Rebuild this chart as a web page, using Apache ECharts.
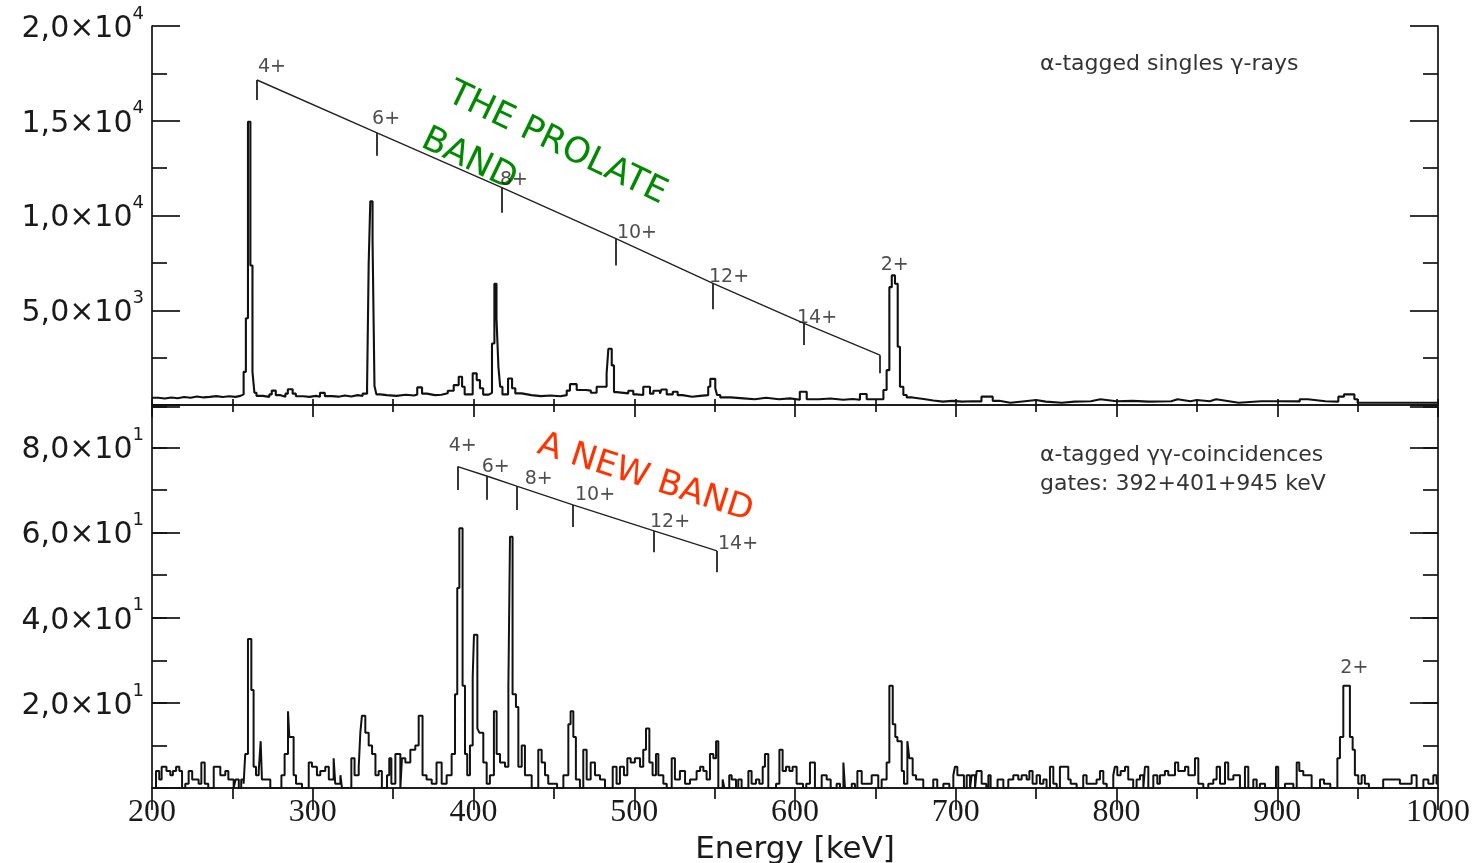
<!DOCTYPE html>
<html>
<head>
<meta charset="utf-8">
<script src="https://cdn.jsdelivr.net/npm/echarts@6/dist/echarts.min.js"></script>
<style>
html,body{margin:0;padding:0;background:#ffffff;}
#chart{width:1480px;height:863px;}
</style>
</head>
<body>
<div id="chart"></div>
<script>
// ---------------- data ----------------
// tick labels
const xTickValues = [200, 300, 400, 500, 600, 700, 800, 900, 1000];
const topYTickValues = [5000, 10000, 15000, 20000];
const topYTickMantissa = ['5,0×10', '1,0×10', '1,5×10', '2,0×10'];
const topYTickExponent = ['3', '4', '4', '4'];
const bottomYTickValues = [20, 40, 60, 80];
const bottomYTickMantissa = ['2,0×10', '4,0×10', '6,0×10', '8,0×10'];
const bottomYTickExponent = ['1', '1', '1', '1'];

// alpha-tagged singles gamma-rays: [bin left edge keV, counts]
const topSpectrum = [
[200,380],[204,340],[208,400],[212,360],[216,420],[220,380],[224,450],[228,400],[232,430],[236,470],
[240,420],[244,460],[248,430],[252,480],[255,560],[257,1750],[258.4,4580],[259.7,14950],[261.2,7360],[262.5,1750],
[263.7,650],[265,480],[269,430],[273,560],[274.5,760],[277,520],[280,440],[283,600],[284.5,830],[287.5,600],
[289.5,460],[294,430],[298,480],[302,440],[304.5,640],[307.5,470],[312,440],[316,500],[320,450],[324,520],
[328,470],[331,600],[333.8,1000],[334.8,7490],[335.8,10750],[337.2,8680],[338.4,1000],[339.6,560],[342,520],[346,480],
[352,540],[358,500],[363,560],[365,930],[368,600],[371,520],[376,540],[380,615],[384,750],[387.7,1050],
[390.8,1490],[392.9,960],[394.5,560],[399.5,1670],[402,1315],[404,880],[406,550],[409.5,640],[411.5,3245],[413,6400],
[414.3,4560],[415.5,2015],[416.6,960],[418,560],[421.5,1400],[424,880],[426,615],[430,520],[436,470],[442,500],
[448,460],[454,520],[458,760],[460,1100],[464.2,790],[470,760],[473,650],[476.6,960],[482.8,1650],[483.9,2970],
[486,2090],[487.4,680],[489,615],[496.3,750],[499.4,560],[501.5,525],[505.6,960],[509.8,600],[511.9,750],[516,600],
[517,820],[520.2,560],[524,700],[527,520],[530,435],[536,480],[541,520],[546,960],[547.3,1380],[550.4,880],
[551.5,525],[553.5,400],[560,350],[568,300],[575,380],[582,300],[590,350],[597,280],[603,700],[607.3,300],
[615,340],[622,280],[630,320],[636,280],[640.4,580],[644.6,300],[655,790],[657,1840],[658.7,6220],[660.2,6840],
[662.2,6400],[663.9,3070],[665.3,960],[667.4,525],[669.5,400],[673,320],[680,240],[686,180],[692,220],[698,180],
[704,200],[710,190],[716,440],[723,220],[727,120],[734,200],[743,260],[750,180],[756,120],[766,180],
[774,200],[784,300],[790,200],[800,220],[810,180],[820,200],[834,300],[838,200],[846,260],[850,200],
[858,300],[862,200],[870,120],[876,200],[890,200],[900,190],[914,300],[919,200],[930,180],[938,440],
[941.5,560],[948,300],[950,120],[1000,120]
];

// alpha-tagged gamma-gamma coincidences: [bin left edge keV, counts]
const bottomSpectrum = [
[200,0],[202.5,4],[204.5,2],[206,5],[209,4],[211.4,3],[213,4],[215,5],[217,4],[218.7,0],
[220.7,1],[222.8,4],[225,2],[229,1],[230.7,6],[232.8,1],[235,0],[238.4,5],[242.5,3],[245.6,4],
[247.5,2],[250.8,0],[252,2],[254,0],[255.5,2],[257,1],[258,8],[259.7,35],[261.8,23],[263.2,5],
[264.7,3],[266.4,4],[267.6,11],[268.4,2],[271.5,2],[273.6,0],[280.5,3],[282.5,8],[284.6,18],[285.4,12],
[288.1,3],[289.6,1],[291.2,1],[293.3,0],[297.5,6],[299.5,5],[302.6,3],[304.7,4],[307.8,5],[310,2],
[313,7],[314,1],[317.2,3],[318.2,0],[324,7],[326,3],[328.6,5],[329.6,13],[330.6,17],[332.7,13],
[334.8,10],[336.9,8],[339,3],[341,4],[343,0],[346.2,3],[347.6,7],[348.9,1],[351.4,8],[354.5,0],
[355.5,7],[357.6,6],[360.7,9],[363.8,10],[365.9,17],[368.3,3],[370.8,2],[374,1],[377,6],[380.2,1],
[383.3,3],[386.4,8],[388.5,22],[389.9,47],[391.2,61],[393.2,24],[394.7,8],[396.1,3],[397.8,10],[399.5,26],
[400.3,36],[402.4,14],[403.6,13],[406.1,6],[408.2,1],[410.2,3],[412.7,18],[414.4,8],[416.5,6],[419.6,5],
[421.7,24],[422.7,59],[424.3,22],[426.4,19],[427.9,5],[430,10],[432,3],[434.1,3],[436.2,0],[440.3,9],
[442.4,6],[444.5,3],[446.5,1],[449.6,1],[452,0],[455.9,3],[459,15],[460.4,18],[462.1,12],[463.7,2],
[466.2,0],[468.3,9],[470.4,2],[472.9,6],[475.6,3],[478.7,2],[481.8,0],[486.6,5],[489,1],[491.1,5],
[493.6,3],[495.7,7],[497.8,6],[500.4,7],[503.6,5],[505.6,9],[507.3,14],[509.4,6],[511.4,3],[513.5,8],
[515,3],[518.1,1],[520.2,0],[523.3,7],[525.3,2],[528.4,4],[531.6,1],[534.7,2],[538.8,4],[541,5],
[543,4],[545,2],[547.1,8],[549.2,7],[550.9,11],[552.3,0],[555,2],[556,0],[559.1,3],[560.6,2],
[563.3,0],[564.7,2],[566.8,0],[571,4],[573,1],[575.7,2],[577.8,1],[579.9,5],[581.3,8],[583.4,0],
[588.2,1],[590.3,9],[592.3,4],[594.4,5],[596.5,4],[598.5,5],[601,1],[605,0],[607,1],[609.3,6],
[612.4,0],[616.6,3],[619.7,2],[622.2,0],[625.9,1],[628,0],[630.1,6],[631.1,0],[635.3,1],[637.3,0],
[638.8,4],[641.5,1],[645.6,1],[647.7,3],[651.8,0],[653.9,2],[657,6],[658.7,24],[660.8,15],[662.4,12],
[663.7,11],[666.4,4],[667.8,1],[669.9,11],[671.1,7],[673.2,3],[675.3,2],[679.8,0],[686,2],[688.5,0],
[692.3,1],[696,0],[698.5,3],[699.5,5],[701,3],[705.1,0],[706.8,3],[708.9,0],[709.9,3],[712,0],
[713,4],[716.1,1],[719,0],[720.3,3],[721.7,0],[726,2],[727.5,2],[729.6,0],[732.7,2],[735.8,3],
[738.9,2],[741,3],[744.1,2],[745.8,4],[747.8,1],[750.3,3],[752.4,1],[754.5,2],[756.5,0],[758.6,5],
[760.7,1],[762.8,0],[764.8,5],[770,2],[771.5,1],[775.2,0],[779.3,3],[781.4,1],[787.6,2],[789.7,4],
[791.8,1],[793.9,0],[798,3],[799,5],[800.5,3],[802.6,4],[805.3,5],[807.3,2],[810.4,0],[812.5,2],
[814.6,3],[816.7,0],[817.7,5],[819.8,0],[822.9,3],[825.4,1],[827,3],[830.1,4],[832.2,3],[836.4,6],
[838.4,4],[842.6,5],[844.7,3],[848.8,7],[850.9,1],[854,0],[857.1,1],[860.2,2],[862.3,5],[864.4,1],
[867.5,6],[869.5,2],[872.7,3],[876.8,0],[879.9,5],[882,0],[885.1,2],[887.2,0],[889.2,1],[892.4,0],
[899.2,5],[900.6,0],[904.8,1],[910,0],[912.1,6],[913.7,4],[916.2,3],[921.4,0],[926.6,2],[929.1,1],
[933,0],[937.4,7],[939,12],[941.1,24],[945.2,12],[946.9,9],[948.3,3],[950.4,1],[952.5,3],[954.5,1],
[957,0],[965.9,2],[969.1,2],[976.3,1],[983.6,3],[986.7,0],[990.9,2],[994,1],[997.1,3],[999.1,1],[1000,1]
];

// band markers (prolate band, top panel)
const topBandLevels = ['4+', '6+', '8+', '10+', '12+', '14+', ''];
const topBandEnergy = [265.3, 340, 417.7, 488.6, 549, 605.6, 652.9];
const topBandTop = [17150, 14360, 11470, 8780, 6420, 4310, 2630];
const topBandBottom = [16100, 13150, 10150, 7360, 5050, 3160, 1680];
// new band markers (bottom panel)
const bottomBandLevels = ['4+', '6+', '8+', '10+', '12+', '14+'];
const bottomBandEnergy = [390.2, 408.2, 426.9, 461.9, 512.3, 551.5];
const bottomBandTop = [75.5, 73.3, 70.9, 66.5, 60.4, 55.7];
const bottomBandBottom = [70.0, 67.7, 65.3, 61.3, 55.4, 50.7];
// 2+ peak labels
const topPeakLabel = ['2+', 660.8, 6840];
const bottomPeakLabel = ['2+', 943, 24];

// ---------------- layout / style ----------------
const INK = '#111';
const TXT = '#1a1a1a';
const topBandLabelShift = [[1,-3],[-5,-4],[-2,2],[1,4],[-4,3],[-7,4],[0,0]];
const bottomBandLabelShift = [[-9,-11],[-5,1],[8,2],[2,0],[-4,1],[1,3]];

function richLabel(values, mant, expo) {
  return function (v) {
    const i = values.indexOf(v);
    return i < 0 ? '' : '{m|' + mant[i] + '}{s|' + expo[i] + '}';
  };
}
const yRich = {
  m: {fontFamily: 'DejaVu Sans', fontSize: 30, color: TXT, lineHeight: 42, padding: [6, 0, 0, 0]},
  s: {fontFamily: 'DejaVu Sans', fontSize: 18, color: TXT, verticalAlign: 'top', lineHeight: 22}
};
const axisLine = {show: true, lineStyle: {color: INK, width: 1.7}};
const tickStyle = {color: INK, width: 1.7};

function xAxisCfg(grid, pos, major, minor, withLabels) {
  return {
    gridIndex: grid, type: 'value', position: pos, min: 200, max: 1000, interval: 100,
    axisLine: axisLine,
    axisTick: {show: major > 0, inside: true, length: major, lineStyle: tickStyle},
    minorTick: {show: minor > 0, splitNumber: 2, length: minor, lineStyle: tickStyle},
    splitLine: {show: false},
    axisLabel: withLabels ? {
      show: true, fontFamily: 'Liberation Serif', fontSize: 32, color: TXT, margin: 9,
      formatter: v => (xTickValues.indexOf(v) >= 0 ? String(v) : '')
    } : {show: false},
    name: withLabels ? 'Energy [keV]' : '',
    nameLocation: 'middle', nameGap: 46,
    nameTextStyle: {fontFamily: 'DejaVu Sans', fontSize: 31, color: TXT}
  };
}
function yAxisCfg(grid, pos, max, interval, major, minor, labelFn, line) {
  return {
    gridIndex: grid, type: 'value', position: pos, min: 0, max: max, interval: interval,
    axisLine: line ? axisLine : {show: false},
    axisTick: {show: true, inside: true, length: major, lineStyle: tickStyle},
    minorTick: {show: minor > 0, splitNumber: 2, length: minor, lineStyle: tickStyle},
    splitLine: {show: false},
    axisLabel: labelFn ? {show: true, formatter: labelFn, rich: yRich, margin: 8} : {show: false}
  };
}

function bandTicks(energy, top, bottom) {
  return energy.map((e, i) => ({coords: [[e, top[i]], [e, bottom[i]]]}));
}
function bandLabels(levels, energy, top, shift) {
  return levels.map((t, i) => ({
    value: [energy[i], top[i]], name: t,
    label: {offset: shift[i]}
  }));
}
const bandLabelStyle = {
  show: true, position: [0, 0], align: 'left', verticalAlign: 'bottom',
  formatter: p => p.name, fontFamily: 'DejaVu Sans', fontSize: 19, color: '#222'
};

const chart = echarts.init(document.getElementById('chart'), null, {renderer: 'canvas'});
chart.setOption({
  backgroundColor: '#ffffff',
  animation: false,
  grid: [
    {left: 152, right: 42, top: 26, height: 379, outerBoundsMode: 'none'},
    {left: 152, right: 42, top: 407, height: 381, outerBoundsMode: 'none'}
  ],
  xAxis: [
    xAxisCfg(0, 'bottom', 6, 6, false),
    xAxisCfg(0, 'top', 12, 7, false),
    xAxisCfg(1, 'bottom', 0, 0, true),
    xAxisCfg(1, 'top', 22, 11, false)
  ],
  yAxis: [
    yAxisCfg(0, 'left', 20000, 5000, 28, 15, richLabel(topYTickValues, topYTickMantissa, topYTickExponent), true),
    yAxisCfg(0, 'right', 20000, 5000, 28, 15, null, true),
    yAxisCfg(1, 'left', 89.5, 20, 28, 0, richLabel(bottomYTickValues, bottomYTickMantissa, bottomYTickExponent), true),
    yAxisCfg(1, 'left', 89.5, 10, 15, 0, null, false),
    yAxisCfg(1, 'right', 89.5, 20, 28, 0, null, true),
    yAxisCfg(1, 'right', 89.5, 10, 15, 0, null, false)
  ],
  series: [
    {type: 'line', name: 'singles', xAxisIndex: 0, yAxisIndex: 0, step: 'end', symbol: 'none',
     data: topSpectrum, lineStyle: {color: INK, width: 2.1}, z: 3},
    {type: 'line', name: 'coinc', xAxisIndex: 2, yAxisIndex: 2, step: 'end', symbol: 'none',
     data: bottomSpectrum, lineStyle: {color: INK, width: 2}, z: 3},
    // prolate band line
    {type: 'line', xAxisIndex: 0, yAxisIndex: 0, symbol: 'none',
     data: topBandEnergy.map((e, i) => [e, topBandTop[i]]), lineStyle: {color: '#222', width: 1.4}},
    {type: 'lines', coordinateSystem: 'cartesian2d', xAxisIndex: 0, yAxisIndex: 0,
     data: bandTicks(topBandEnergy, topBandTop, topBandBottom), lineStyle: {color: '#222', width: 1.8, opacity: 1}},
    {type: 'scatter', xAxisIndex: 0, yAxisIndex: 0, symbolSize: 0, silent: true,
     data: bandLabels(topBandLevels, topBandEnergy, topBandTop, topBandLabelShift)
       .concat([{value: [topPeakLabel[1], topPeakLabel[2]], name: topPeakLabel[0], label: {offset: [-12, -1]}}]),
     label: bandLabelStyle},
    // new band line
    {type: 'line', xAxisIndex: 2, yAxisIndex: 2, symbol: 'none',
     data: bottomBandEnergy.map((e, i) => [e, bottomBandTop[i]]), lineStyle: {color: '#222', width: 1.4}},
    {type: 'lines', coordinateSystem: 'cartesian2d', xAxisIndex: 2, yAxisIndex: 2,
     data: bandTicks(bottomBandEnergy, bottomBandTop, bottomBandBottom), lineStyle: {color: '#222', width: 1.8, opacity: 1}},
    {type: 'scatter', xAxisIndex: 2, yAxisIndex: 2, symbolSize: 0, silent: true,
     data: bandLabels(bottomBandLevels, bottomBandEnergy, bottomBandTop, bottomBandLabelShift)
       .concat([{value: [bottomPeakLabel[1], bottomPeakLabel[2]], name: bottomPeakLabel[0], label: {offset: [-6, -8]}}]),
     label: bandLabelStyle}
  ],
  graphic: [
    {type: 'text', left: 1040, top: 53, style: {text: 'α-tagged singles γ-rays', fontFamily: 'DejaVu Sans', fontSize: 22, fill: '#333'}},
    {type: 'text', left: 1040, top: 444, style: {text: 'α-tagged γγ-coincidences', fontFamily: 'DejaVu Sans', fontSize: 22, fill: '#333'}},
    {type: 'text', left: 1040, top: 473, style: {text: 'gates: 392+401+945 keV', fontFamily: 'DejaVu Sans', fontSize: 22, fill: '#333'}},
    {type: 'text', x: 457, y: 76, rotation: -0.45, style: {text: 'THE PROLATE', fontFamily: 'DejaVu Sans', fontSize: 35, fill: '#008a00', align: 'left', verticalAlign: 'top'}},
    {type: 'text', x: 431, y: 122, rotation: -0.45, style: {text: 'BAND', fontFamily: 'DejaVu Sans', fontSize: 35, fill: '#008a00', align: 'left', verticalAlign: 'top'}},
    {type: 'text', x: 544, y: 428, rotation: -0.31, style: {text: 'A NEW BAND', fontFamily: 'DejaVu Sans', fontSize: 34, fill: '#ff3300', align: 'left', verticalAlign: 'top'}}
  ]
});
</script>
</body>
</html>
